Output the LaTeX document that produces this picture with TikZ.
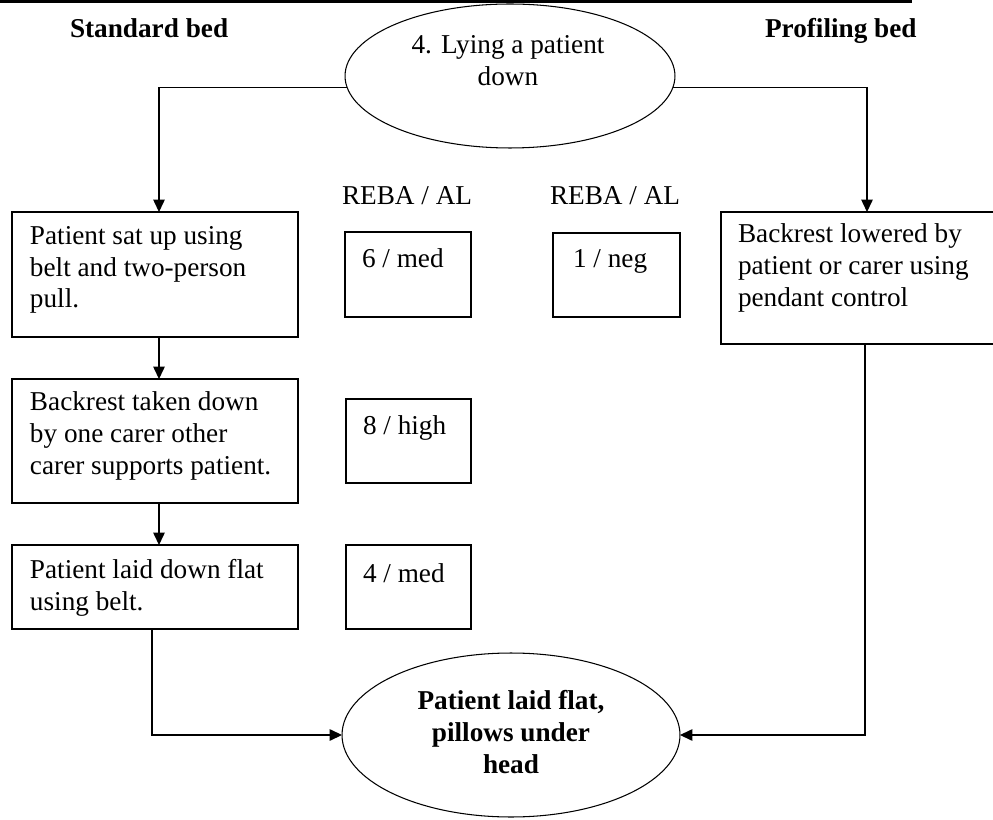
\documentclass[tikz,border=0pt]{standalone}
\usepackage{fontspec}
\setmainfont{Liberation Serif}
\usetikzlibrary{arrows.meta,shapes.geometric,fit}
\begin{document}
\begin{tikzpicture}[x=0.02cm,y=-0.02cm,
  every node/.style={font=\fontsize{15.5}{18.2}\selectfont, inner sep=0pt, outer sep=0pt},
  box/.style={draw, line width=0.85pt, rectangle},
  oval/.style={draw, line width=0.6pt, ellipse},
  conn/.style={line width=0.65pt},
  arr/.style={conn, -{Triangle[length=7pt,width=6.5pt]}},
  txt/.style={align=left, anchor=north west, execute at begin node={\rule{0pt}{12pt}}},
  ctxt/.style={align=center, anchor=north, execute at begin node={\rule{0pt}{12pt}}},
  lab/.style={anchor=base west},
  head/.style={anchor=base west, font=\fontsize{15.5}{18.2}\selectfont\bfseries}
]
\useasboundingbox (0,0) rectangle (993,820);
\clip (0,0) rectangle (993,820);

% top rule
\draw[line width=1.8pt] (0,1.5) -- (912,1.5);

% headings
\node[head] (hs) at (70,38) {Standard bed};
\node[head] (hp) at (765,38) {Profiling bed};

% top ellipse
\node[oval, minimum width=6.6cm, minimum height=2.88cm] (e1) at (510,76) {};
\node[ctxt] (e1t) at (508,35) {4. Lying a patient\\down};

% left column boxes
\node[box, fit={(12,212) (298,337)}] (b1) {};
\node[txt] (b1t) at (30,226) {Patient sat up using\\belt and two-person\\pull.};
\node[box, fit={(12,379) (298,503)}] (b2) {};
\node[txt] (b2t) at (30,392) {Backrest taken down\\by one carer other\\carer supports patient.};
\node[box, fit={(12,545) (298,629)}] (b3) {};
\node[txt] (b3t) at (30,559) {Patient laid down flat\\using belt.};

% right box
\node[box, fit={(721,212) (1001,344)}] (bR) {};
\node[txt] (bRt) at (738,224) {Backrest lowered by\\patient or carer using\\pendant control};

% REBA labels
\node[lab] (r1) at (342,205) {REBA / AL};
\node[lab] (r2) at (550,205) {REBA / AL};

% score boxes
\node[box, fit={(345,232) (471,317)}] (s1) {};
\node[lab] (s1t) at (362,268) {6 / med};
\node[box, fit={(553,233) (680,317)}] (s2) {};
\node[lab] (s2t) at (573,268) {1 / neg};
\node[box, fit={(346,399) (471,483)}] (s3) {};
\node[lab] (s3t) at (363,435) {8 / high};
\node[box, fit={(346,545) (471,629)}] (s4) {};
\node[lab] (s4t) at (363,582) {4 / med};

% bottom ellipse
\node[oval, minimum width=6.76cm, minimum height=3.28cm] (e2) at (511,735) {};
\node[ctxt, font=\fontsize{15.5}{18.2}\selectfont\bfseries] (e2t) at (511,690) {Patient laid flat,\\pillows under\\head};

% connectors
\draw[arr] (e1.184) -| ([shift={(4,0)}]b1.north);
\draw[arr] (e1.-4) -| ([shift={(6,0)}]bR.north);
\draw[arr] ([shift={(4,0)}]b1.south) -- ([shift={(4,0)}]b2.north);
\draw[arr] ([shift={(4,0)}]b2.south) -- ([shift={(4,0)}]b3.north);
\draw[arr] ([shift={(-3,0)}]b3.south) |- (e2.west);
\draw[arr] ([shift={(4,0)}]bR.south) |- (e2.east);
\end{tikzpicture}
\end{document}
